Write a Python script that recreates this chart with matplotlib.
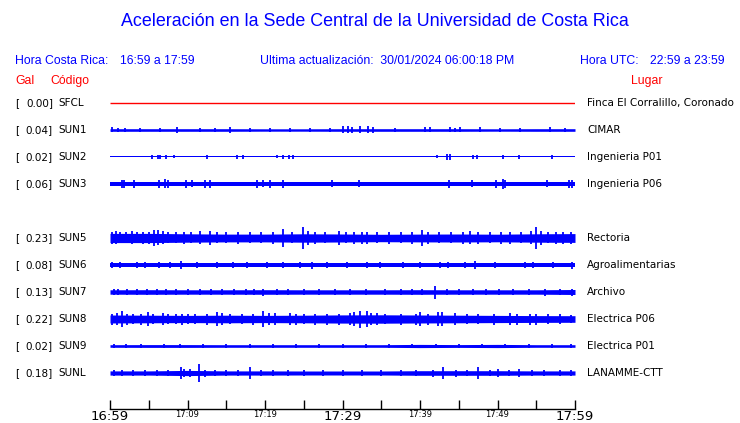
import matplotlib
matplotlib.use('Agg')
import matplotlib.pyplot as plt
import numpy as np

W, H = 740, 423

# ---------------- data ----------------
codes = ['SFCL', 'SUN1', 'SUN2', 'SUN3', 'SUN5', 'SUN6', 'SUN7', 'SUN8', 'SUN9', 'SUNL']
gal = [0.00, 0.04, 0.02, 0.06, 0.23, 0.08, 0.13, 0.22, 0.02, 0.18]
places = ['Finca El Corralillo, Coronado', 'CIMAR', 'Ingenieria P01', 'Ingenieria P06',
          'Rectoria', 'Agroalimentarias', 'Archivo', 'Electrica P06', 'Electrica P01',
          'LANAMME-CTT']
slots = [0, 1, 2, 3, 5, 6, 7, 8, 9, 10]   # SUN4 slot empty

minutes_env = [0, 5, 10, 15, 20, 25, 30, 35, 40, 45, 50, 55, 60]
tick_minutes = [0, 5, 10, 15, 20, 25, 30, 35, 40, 45, 50, 55, 60]
tick_labels = ['16:59', '', '17:09', '', '17:19', '', '17:29', '', '17:39', '', '17:49', '', '17:59']
big_ticks = ['16:59', '17:29', '17:59']

# envelope half-amplitude of the background band (display units)
base_env = {
    'SUN1': [1.3, 1.3, 1.3, 1.3, 1.2, 1.2, 1.3, 1.3, 1.3, 1.3, 1.2, 1.3, 1.3],
    'SUN2': [0.5, 0.5, 0.5, 0.5, 0.5, 0.5, 0.5, 0.5, 0.5, 0.5, 0.5, 0.5, 0.5],
    'SUN3': [2.3, 2.3, 2.3, 2.3, 2.3, 2.3, 2.3, 2.3, 2.3, 2.3, 2.3, 2.3, 2.3],
    'SUN5': [4.6, 4.6, 4.2, 3.9, 3.9, 4.2, 4.0, 3.7, 3.9, 4.0, 3.8, 4.2, 4.4],
    'SUN6': [1.9, 1.9, 1.9, 1.9, 1.9, 1.9, 1.9, 1.9, 1.9, 1.9, 1.9, 1.9, 1.9],
    'SUN7': [2.2, 2.3, 2.2, 2.2, 2.3, 2.2, 2.2, 2.2, 2.3, 2.2, 2.2, 2.2, 2.5],
    'SUN8': [4.0, 3.8, 3.6, 3.8, 3.6, 3.8, 4.1, 4.2, 4.0, 3.8, 3.6, 3.4, 3.3],
    'SUN9': [1.3, 1.4, 1.4, 1.3, 1.3, 1.3, 1.3, 1.3, 1.6, 1.4, 1.6, 1.3, 1.3],
    'SUNL': [2.1, 2.1, 2.6, 2.1, 2.1, 2.0, 2.0, 2.0, 2.3, 2.3, 2.3, 2.1, 2.1],
}

spike_t = {
    'SUN1': [0.26, 1.0, 1.9, 3.9, 6.5, 8.6, 11.6, 13.5, 15.5, 18.1, 20.6, 23.2, 25.8, 28.4,
             30.1, 30.7, 31.2, 32.3, 33.3, 33.9, 36.8, 40.6, 41.3, 43.9, 44.5, 45.2, 47.7,
             50.3, 52.9, 56.8, 58.7],
    'SUN2': [5.4, 6.2, 6.5, 7.2, 8.3, 12.5, 16.4, 17.2, 21.5, 22.3, 23.1, 23.6, 42.2, 43.5,
             43.9, 46.8, 47.4, 50.7, 52.8, 57.0],
    'SUN3': [1.5, 1.8, 3.1, 6.3, 7.1, 7.5, 9.8, 10.6, 12.3, 12.9, 19.0, 19.7, 20.6, 22.3,
             28.6, 32.1, 43.7, 46.7, 49.8, 50.7, 51.0, 56.4, 59.2, 59.6],
    'SUN5': [0.3, 0.8, 1.3, 2.0, 2.8, 3.5, 4.3, 5.0, 5.7, 6.2, 6.8, 7.5, 8.5, 9.5, 10.5, 11.6,
             12.9, 13.8, 15.0, 16.5, 18.0, 19.5, 21.0, 22.3, 23.5, 24.9, 25.5, 26.5, 27.8,
             29.5, 30.5, 31.5, 32.5, 33.2, 34.5, 36.0, 37.5, 39.0, 40.3, 41.0, 42.5, 44.0,
             45.5, 46.5, 47.5, 49.0, 50.5, 51.6, 53.0, 54.3, 55.0, 55.6, 56.5, 57.5, 58.5, 59.5],
    'SUN6': [0.26, 1.3, 3.5, 4.5, 6.3, 7.7, 9.2, 11.2, 13.8, 15.9, 17.7, 20.3, 22.3, 24.5,
             26.1, 28.0, 30.6, 33.2, 34.8, 37.8, 40.0, 42.6, 43.6, 45.8, 47.1, 49.7, 53.5,
             54.6, 57.2, 59.6],
    'SUN7': [0.5, 1.0, 2.2, 3.5, 4.8, 6.0, 7.2, 8.5, 10.0, 11.6, 13.0, 14.5, 16.0, 17.5, 18.6,
             19.7, 21.5, 23.0, 25.0, 27.0, 29.0, 31.0, 33.0, 35.5, 37.5, 39.0, 40.3, 41.9,
             43.5, 45.0, 46.8, 48.5, 50.2, 52.0, 54.0, 56.1, 58.0, 59.6],
    'SUN8': [0.3, 0.9, 1.5, 2.2, 3.0, 4.0, 4.9, 5.5, 6.8, 7.5, 8.5, 9.3, 10.0, 11.0, 12.5,
             13.8, 14.5, 15.5, 17.0, 18.5, 19.7, 20.5, 21.3, 23.2, 24.0, 25.0, 26.5, 28.0,
             29.5, 31.0, 31.5, 32.3, 33.2, 33.7, 34.5, 35.5, 37.5, 39.5, 40.0, 41.0, 42.3,
             42.8, 44.5, 46.0, 47.5, 49.5, 51.6, 52.5, 54.2, 55.0, 56.5, 58.0, 59.5],
    'SUN9': [0.5, 2.0, 4.0, 7.0, 9.0, 12.0, 15.0, 18.0, 21.0, 24.0, 27.0, 30.0, 33.0, 36.0,
             39.0, 42.0, 45.0, 48.0, 51.0, 54.0, 57.0, 59.5],
    'SUNL': [0.5, 1.5, 3.0, 4.5, 6.0, 7.5, 9.2, 9.6, 10.3, 11.5, 12.2, 13.5, 15.0, 16.5, 18.1,
             19.5, 21.0, 23.0, 25.0, 27.5, 30.0, 32.5, 35.0, 37.5, 39.5, 41.7, 43.0, 44.6,
             46.0, 47.5, 49.0, 50.1, 51.5, 52.8, 54.5, 56.0, 58.0, 59.5],
}

spike_a = {
    'SUN1': [2.5, 2.0, 2.2, 2.0, 2.2, 3.0, 2.0, 2.2, 3.0, 2.0, 2.2, 2.0, 2.2, 2.0,
             3.5, 3.5, 3.0, 3.5, 3.5, 3.0, 2.2, 2.5, 2.5, 2.5, 2.2, 2.5, 2.5,
             2.0, 2.2, 2.5, 2.0],
    'SUN2': [2.0, 2.0, 2.0, 2.0, 1.5, 2.0, 2.0, 2.0, 1.5, 2.0, 2.0, 2.0, 1.5, 3.0,
             3.0, 2.0, 2.0, 2.0, 2.0, 2.0],
    'SUN3': [4.0, 4.0, 4.0, 4.0, 4.5, 4.0, 4.0, 3.5, 4.0, 4.0, 4.0, 3.5, 4.0, 4.0,
             3.5, 3.5, 4.0, 3.5, 4.0, 5.0, 4.0, 3.5, 4.0, 4.0],
    'SUN5': [6.0, 6.5, 5.5, 5.5, 6.5, 5.5, 6.0, 6.0, 8.0, 7.5, 6.5, 5.5, 5.5, 6.0, 5.5, 6.5,
             7.0, 5.5, 5.5, 6.0, 5.5, 5.5, 6.0, 9.0, 5.5, 11.0, 7.0, 6.0, 5.5,
             7.0, 5.5, 6.0, 6.0, 6.0, 5.5, 6.0, 5.5, 6.0, 8.0, 6.0, 5.5, 5.5,
             6.0, 6.5, 6.0, 5.5, 6.0, 6.0, 5.5, 6.5, 11.0, 7.0, 5.5, 6.0, 6.0, 6.0],
    'SUN6': [3.0, 2.8, 3.0, 2.8, 3.0, 2.8, 4.0, 3.0, 2.8, 3.0, 2.8, 2.8, 3.0, 2.8,
             3.5, 2.8, 3.0, 2.8, 2.8, 3.0, 3.0, 2.8, 3.0, 2.8, 4.0, 3.0, 2.8,
             3.0, 2.8, 3.5],
    'SUN7': [3.2, 3.0, 3.2, 3.0, 3.2, 3.0, 3.2, 3.0, 3.2, 3.2, 3.0, 3.2, 3.0, 3.2, 3.0,
             3.5, 3.2, 3.2, 3.0, 3.2, 3.0, 3.2, 3.0, 3.2, 3.0, 3.2, 3.2, 6.5,
             3.2, 3.0, 3.2, 3.0, 3.2, 3.0, 3.2, 3.5, 3.2, 3.5],
    'SUN8': [5.5, 6.0, 8.0, 5.5, 5.0, 5.5, 7.0, 5.0, 6.0, 5.0, 5.0, 5.5, 5.0, 5.0, 5.5,
             7.0, 6.0, 5.0, 5.0, 5.5, 8.0, 6.0, 6.0, 6.0, 5.5, 5.0, 5.5, 5.5,
             5.5, 6.0, 7.0, 8.5, 8.0, 6.0, 6.0, 5.0, 5.5, 5.5, 7.0, 5.5, 7.0,
             7.0, 6.0, 5.0, 5.0, 5.5, 6.0, 5.5, 5.5, 5.5, 5.0, 5.0, 4.5],
    'SUN9': [2.0, 1.8, 2.0, 1.8, 2.0, 1.8, 2.0, 1.8, 2.0, 1.8, 2.0, 1.8, 2.0, 1.8,
             2.0, 1.8, 2.0, 1.8, 2.0, 1.8, 2.0, 1.8],
    'SUNL': [3.0, 3.0, 2.8, 3.0, 3.0, 3.0, 6.0, 4.0, 4.0, 9.5, 3.5, 3.0, 3.0, 3.0, 6.0,
             3.0, 2.8, 3.0, 2.8, 3.0, 2.8, 3.0, 2.8, 3.0, 3.0, 3.5, 6.0, 3.5,
             3.0, 5.5, 3.0, 4.0, 3.0, 4.5, 3.0, 3.0, 3.0, 3.0],
}

# ---------------- layout ----------------
ROW0 = 103.0      # pixel y of first row
DY = 27.0         # pixel row spacing
X0, X1 = 110.0, 575.0
YTOP, YBOT = 90.0, 409.0

blue = '#0000FF'
red = '#FF0000'

fig = plt.figure(figsize=(W / 100, H / 100), dpi=100)
fig.patch.set_facecolor('white')

ax = fig.add_axes([X0 / W, 1 - YBOT / H, (X1 - X0) / W, (YBOT - YTOP) / H])
ax.set_xlim(0, 60)
ax.set_ylim((YBOT - ROW0) / DY, (YTOP - ROW0) / DY)
for s in ['top', 'left', 'right']:
    ax.spines[s].set_visible(False)
ax.spines['bottom'].set_linewidth(1.0)
ax.set_yticks([])
ax.set_xticks(tick_minutes)
ax.set_xticklabels(tick_labels)
ax.tick_params(axis='x', direction='in', length=6.5, width=1.0, pad=1)
for lab in ax.get_xticklabels():
    if lab.get_text() in big_ticks:
        lab.set_fontsize(9.5)
    else:
        lab.set_fontsize(6)
    lab.set_family('DejaVu Sans')

scale = 1.0 / DY
for code, slot in zip(codes, slots):
    if code == 'SFCL':
        ax.plot([0, 60], [slot, slot], color=red, lw=1.0, solid_capstyle='butt')
        continue
    env = np.array(base_env[code]) * scale
    ax.fill_between(minutes_env, slot - env, slot + env, color=blue, lw=0)
    t = np.array(spike_t[code])
    a = np.array(spike_a[code]) * scale
    ax.vlines(t, slot - a, slot + a, color=blue, lw=1.3)

# ---------------- text ----------------
def ftext(x, y, s, **kw):
    fig.text(x / W, 1 - y / H, s, **kw)

sans = 'Liberation Sans'
ftext(375, 22, 'Aceleración en la Sede Central de la Universidad de Costa Rica',
      ha='center', va='center', color=blue, fontsize=12.85, family=sans)
ftext(15, 61, 'Hora Costa Rica:', ha='left', va='center', color=blue, fontsize=8.8, family=sans)
ftext(120, 61, '16:59 a 17:59', ha='left', va='center', color=blue, fontsize=8.8, family=sans)
ftext(260, 61, 'Ultima actualización:  30/01/2024 06:00:18 PM', ha='left', va='center',
      color=blue, fontsize=8.8, family=sans)
ftext(580, 61, 'Hora UTC:', ha='left', va='center', color=blue, fontsize=8.8, family=sans)
ftext(650, 61, '22:59 a 23:59', ha='left', va='center', color=blue, fontsize=8.8, family=sans)
ftext(15, 81, 'Gal', ha='left', va='center', color=red, fontsize=8.8, family=sans)
ftext(50, 81, 'Código', ha='left', va='center', color=red, fontsize=8.8, family=sans)
ftext(662, 81, 'Lugar', ha='right', va='center', color=red, fontsize=8.8, family=sans)

for code, g, place, slot in zip(codes, gal, places, slots):
    y = ROW0 + DY * slot
    ftext(15, y, '[', ha='left', va='center', color='black', fontsize=7.5, family='DejaVu Sans')
    ftext(53, y, f'{g:.2f}]', ha='right', va='center', color='black', fontsize=7.5,
          family='DejaVu Sans')
    ftext(58, y, code, ha='left', va='center', color='black', fontsize=7.5, family='DejaVu Sans')
    ftext(587, y, place, ha='left', va='center', color='black', fontsize=7.5,
          family='DejaVu Sans')

fig.savefig('out.png', dpi=100, facecolor='white')
